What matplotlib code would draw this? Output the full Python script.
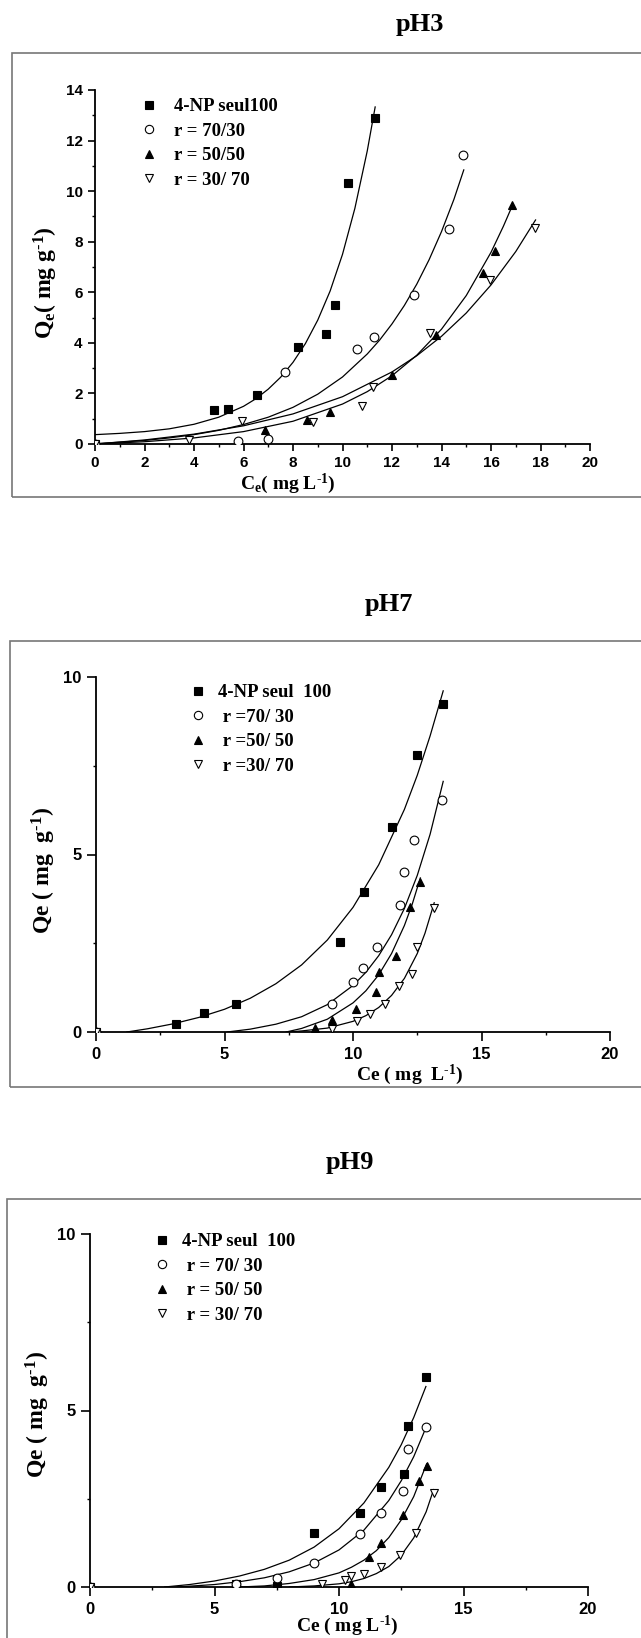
import matplotlib
matplotlib.use("Agg")
import matplotlib.pyplot as plt
from matplotlib.patches import Rectangle

plt.rcParams["font.family"] = ["Liberation Serif", "DejaVu Serif"]
plt.rcParams["font.weight"] = "bold"
plt.rcParams["mathtext.fontset"] = "custom"
plt.rcParams["mathtext.rm"] = "Liberation Serif:bold"
plt.rcParams["mathtext.it"] = "Liberation Serif:bold"
plt.rcParams["mathtext.bf"] = "Liberation Serif:bold"

W, H = 641, 1638

# ---------------- pH 3 ----------------
ph3_ce_np = [0, 4.79, 5.37, 6.54, 8.21, 9.33, 9.71, 10.21, 11.30]
ph3_qe_np = [0, 1.36, 1.40, 1.95, 3.85, 4.35, 5.50, 10.34, 12.88]
ph3_ce_70 = [0, 5.78, 7.00, 7.68, 10.59, 11.28, 12.88, 14.29, 14.88]
ph3_qe_70 = [0, 0.11, 0.20, 2.83, 3.74, 4.23, 5.90, 8.52, 11.42]
ph3_ce_50 = [0, 6.87, 8.55, 9.51, 11.99, 13.79, 15.67, 16.15, 16.86]
ph3_qe_50 = [0, 0.57, 0.94, 1.26, 2.74, 4.32, 6.76, 7.65, 9.44]
ph3_ce_30 = [0, 3.80, 5.95, 8.80, 10.78, 11.25, 13.54, 15.95, 17.77]
ph3_qe_30 = [0, 0.17, 0.90, 0.86, 1.49, 2.24, 4.39, 6.49, 8.56]

# fitted curves
ph3_fx_np = [0, 1, 2, 3, 4, 5, 6, 6.5, 7, 7.5, 8, 8.5, 9, 9.5, 10, 10.5, 11, 11.32]
ph3_fq_np = [0.37, 0.42, 0.49, 0.60, 0.78, 1.06, 1.49, 1.79, 2.17, 2.64, 3.23,
             3.97, 4.90, 6.05, 7.50, 9.32, 11.59, 13.33]
ph3_fx_70 = [0, 1, 2, 3, 4, 5, 6, 7, 8, 9, 10, 11, 11.5, 12, 12.5, 13, 13.5, 14, 14.5, 14.9]
ph3_fq_70 = [0.01, 0.07, 0.14, 0.24, 0.37, 0.54, 0.77, 1.06, 1.45, 1.97, 2.65,
             3.56, 4.11, 4.75, 5.48, 6.32, 7.29, 8.40, 9.67, 10.84]
ph3_fx_50 = [0, 2, 4, 6, 8, 10, 11, 12, 13, 14, 15, 16, 16.5, 16.85]
ph3_fq_50 = [0, 0.09, 0.24, 0.49, 0.90, 1.58, 2.07, 2.70, 3.51, 4.54, 5.87, 7.58, 8.61, 9.40]
ph3_fx_30 = [0, 2, 4, 6, 8, 10, 12, 13, 14, 15, 16, 17, 17.8]
ph3_fq_30 = [0, 0.16, 0.39, 0.72, 1.19, 1.87, 2.85, 3.49, 4.26, 5.18, 6.29, 7.61, 8.86]

# ---------------- pH 7 ----------------
ph7_ce_np = [0, 3.13, 4.22, 5.44, 9.48, 10.43, 11.52, 12.49, 13.51]
ph7_qe_np = [0, 0.23, 0.54, 0.78, 2.53, 3.95, 5.78, 7.79, 9.25]
ph7_ce_70 = [0, 9.19, 10.00, 10.38, 10.95, 11.81, 12.00, 12.38, 13.48]
ph7_qe_70 = [0, 0.80, 1.41, 1.81, 2.39, 3.59, 4.51, 5.40, 6.53]
ph7_ce_50 = [0, 8.52, 9.19, 10.10, 10.89, 11.00, 11.67, 12.21, 12.62]
ph7_qe_50 = [0, 0.12, 0.33, 0.64, 1.13, 1.70, 2.14, 3.53, 4.23]
ph7_ce_30 = [0, 9.19, 10.17, 10.68, 11.25, 11.79, 12.29, 12.49, 13.16]
ph7_qe_30 = [0, 0.09, 0.31, 0.50, 0.80, 1.29, 1.64, 2.39, 3.50]

ph7_fx_np = [1.2, 2, 3, 4, 5, 6, 7, 8, 9, 10, 11, 12, 12.5, 13, 13.51]
ph7_fq_np = [0, 0.09, 0.23, 0.41, 0.64, 0.95, 1.36, 1.89, 2.59, 3.51, 4.71,
             6.27, 7.23, 8.34, 9.61]
ph7_fx_70 = [5.1, 6, 7, 8, 9, 10, 10.5, 11, 11.5, 12, 12.5, 13, 13.51]
ph7_fq_70 = [0, 0.08, 0.22, 0.43, 0.77, 1.31, 1.68, 2.15, 2.74, 3.48, 4.41, 5.57, 7.06]
ph7_fx_50 = [7.4, 8, 9, 10, 10.5, 11, 11.5, 12, 12.3, 12.62]
ph7_fq_50 = [0, 0.10, 0.36, 0.82, 1.16, 1.61, 2.21, 3.00, 3.59, 4.34]
ph7_fx_30 = [7.5, 8, 9, 10, 10.5, 11, 11.5, 12, 12.5, 12.8, 13.16]
ph7_fq_30 = [0, 0.03, 0.11, 0.30, 0.46, 0.69, 1.03, 1.51, 2.21, 2.78, 3.64]

# ---------------- pH 9 ----------------
ph9_ce_np = [0, 5.88, 7.51, 9.00, 10.85, 11.70, 12.62, 12.79, 13.49]
ph9_qe_np = [0, 0.08, 0.03, 1.52, 2.09, 2.84, 3.21, 4.56, 5.96]
ph9_ce_70 = [0, 5.88, 7.51, 9.00, 10.85, 11.70, 12.59, 12.79, 13.49]
ph9_qe_70 = [0, 0.08, 0.25, 0.68, 1.49, 2.09, 2.71, 3.90, 4.54]
ph9_ce_50 = [0, 10.49, 11.21, 11.70, 12.59, 13.20, 13.52]
ph9_qe_50 = [0, 0.08, 0.86, 1.25, 2.03, 3.00, 3.43]
ph9_ce_30 = [0, 9.32, 10.24, 10.49, 11.01, 11.67, 12.44, 13.11, 13.80]
ph9_qe_30 = [0, 0.08, 0.20, 0.30, 0.37, 0.58, 0.91, 1.52, 2.65]

ph9_fx_np = [3, 4, 5, 6, 7, 8, 9, 10, 11, 12, 12.5, 13, 13.49]
ph9_fq_np = [0, 0.07, 0.17, 0.31, 0.50, 0.76, 1.13, 1.65, 2.38, 3.39, 4.03, 4.80, 5.68]
ph9_fx_70 = [3.5, 5, 6, 7, 8, 9, 10, 11, 12, 12.5, 13, 13.49]
ph9_fq_70 = [0, 0.07, 0.15, 0.26, 0.43, 0.68, 1.05, 1.61, 2.45, 3.01, 3.69, 4.51]
ph9_fx_50 = [6, 7, 8, 9, 10, 10.5, 11, 11.5, 12, 12.5, 13, 13.52]
ph9_fq_50 = [0, 0.03, 0.10, 0.21, 0.40, 0.56, 0.76, 1.03, 1.40, 1.90, 2.56, 3.49]
ph9_fx_30 = [8, 9, 10, 10.5, 11, 11.5, 12, 12.5, 13, 13.5, 13.8]
ph9_fq_30 = [0, 0.03, 0.09, 0.15, 0.24, 0.38, 0.58, 0.90, 1.39, 2.13, 2.76]

ph3_labels = ["4-NP seul100", "r = 70/30", "r = 50/50", "r = 30/ 70"]
ph7_labels = ["4-NP seul  100", " r =70/ 30", " r =50/ 50", " r =30/ 70"]
ph9_labels = ["4-NP seul  100", " r = 70/ 30", " r = 50/ 50", " r = 30/ 70"]

marker_styles = [
    dict(marker="s", mfc="black"),
    dict(marker="o", mfc="white"),
    dict(marker="^", mfc="black"),
    dict(marker="v", mfc="white"),
]

# superscript "-1" drawn with a plain hyphen instead of the long math minus
SUP = "$^{\\mathrm{\u2010}1}$"


def px(x, y):
    return x / W, 1 - y / H


def draw_panel(fig, box, series, fits, labels, xticks, xminor, ymax, yticks, yminor,
               ticksize, majlen, title, title_xy, xlabel, xlabel_xy, ylabel, ylabel_xy,
               frame, leg_xy, textpad):
    left, top, right, bottom = box
    ax = fig.add_axes([left / W, 1 - bottom / H, (right - left) / W, (bottom - top) / H])

    for fx, fq in fits:
        ax.plot(fx, fq, color="black", lw=0.9, zorder=2)
    handles = []
    for (ce, qe), style, lab in zip(series, marker_styles, labels):
        h, = ax.plot(ce, qe, ls="none", mec="black", mew=0.8, ms=6.3,
                     label=lab, zorder=3, **style)
        handles.append(h)

    ax.set_xlim(0, 20)
    ax.set_ylim(0, ymax)
    ax.set_xticks(xticks)
    ax.set_xticks(xminor, minor=True)
    ax.set_yticks(yticks)
    ax.set_yticks(yminor, minor=True)
    for s in ("top", "right"):
        ax.spines[s].set_visible(False)
    for s in ("left", "bottom"):
        ax.spines[s].set_linewidth(1.3)
    ax.tick_params(which="major", direction="out", length=majlen, width=1.2,
                   labelsize=ticksize, pad=4)
    ax.tick_params(which="minor", direction="out", length=2.5, width=1.0)
    for lbl in ax.get_xticklabels() + ax.get_yticklabels():
        lbl.set_fontfamily("Liberation Sans")
        lbl.set_fontweight("bold")

    ax.legend(handles=handles, loc="upper left", bbox_to_anchor=px(*leg_xy),
              bbox_transform=fig.transFigure, frameon=False, fontsize=13.5,
              handlelength=0.8, handletextpad=textpad, labelspacing=0.4,
              borderpad=0, borderaxespad=0, markerscale=0.95)

    fig.text(*px(*title_xy), title, ha="center", va="center", fontsize=19,
             fontweight="bold")
    fig.text(*px(*xlabel_xy), xlabel, ha="center", va="center", fontsize=14,
             fontweight="bold")
    fig.text(*px(*ylabel_xy), ylabel, ha="center", va="center", fontsize=17,
             fontweight="bold", rotation=90)

    fl, ft, fr, fb = frame
    x0, y0 = px(fl, fb)
    x1, y1 = px(fr, ft)
    fig.add_artist(Rectangle((x0, y0), x1 - x0, y1 - y0, transform=fig.transFigure,
                             fill=False, ec="#777777", lw=1.2))
    return ax


fig = plt.figure(figsize=(W / 100, H / 100), dpi=100)

draw_panel(
    fig, (95, 90, 590, 444),
    [(ph3_ce_np, ph3_qe_np), (ph3_ce_70, ph3_qe_70), (ph3_ce_50, ph3_qe_50), (ph3_ce_30, ph3_qe_30)],
    [(ph3_fx_np, ph3_fq_np), (ph3_fx_70, ph3_fq_70), (ph3_fx_50, ph3_fq_50), (ph3_fx_30, ph3_fq_30)],
    ph3_labels,
    list(range(0, 21, 2)), list(range(1, 20, 2)), 14, list(range(0, 15, 2)), list(range(1, 14, 2)),
    11, 5,
    "pH3", (420, 25),
    "C$_\\mathrm{e}$( mg L" + SUP + ")", (288, 484),
    "Q$_\\mathrm{e}$( mg g" + SUP + ")", (46, 283),
    (12, 53, 700, 497), (141, 98), 0.95,
)

draw_panel(
    fig, (96, 677, 610, 1032),
    [(ph7_ce_np, ph7_qe_np), (ph7_ce_70, ph7_qe_70), (ph7_ce_50, ph7_qe_50), (ph7_ce_30, ph7_qe_30)],
    [(ph7_fx_np, ph7_fq_np), (ph7_fx_70, ph7_fq_70), (ph7_fx_50, ph7_fq_50), (ph7_fx_30, ph7_fq_30)],
    ph7_labels,
    [0, 5, 10, 15, 20], [2.5, 7.5, 12.5, 17.5], 10, [0, 5, 10], [2.5, 7.5],
    12, 6.5,
    "pH7", (389, 604),
    "Ce ( mg  L" + SUP + ")", (410, 1075),
    "Qe ( mg  g" + SUP + ")", (44, 870),
    (10, 641, 700, 1087), (190, 684), 0.7,
)

draw_panel(
    fig, (90, 1234, 588, 1587),
    [(ph9_ce_np, ph9_qe_np), (ph9_ce_70, ph9_qe_70), (ph9_ce_50, ph9_qe_50), (ph9_ce_30, ph9_qe_30)],
    [(ph9_fx_np, ph9_fq_np), (ph9_fx_70, ph9_fq_70), (ph9_fx_50, ph9_fq_50), (ph9_fx_30, ph9_fq_30)],
    ph9_labels,
    [0, 5, 10, 15, 20], [2.5, 7.5, 12.5, 17.5], 10, [0, 5, 10], [2.5, 7.5],
    12, 6.5,
    "pH9", (350, 1162),
    "Ce ( mg L" + SUP + ")", (347, 1626),
    "Qe ( mg  g" + SUP + ")", (38, 1414),
    (7, 1199, 700, 1700), (154, 1233), 0.7,
)

fig.savefig("out.png", dpi=100)
